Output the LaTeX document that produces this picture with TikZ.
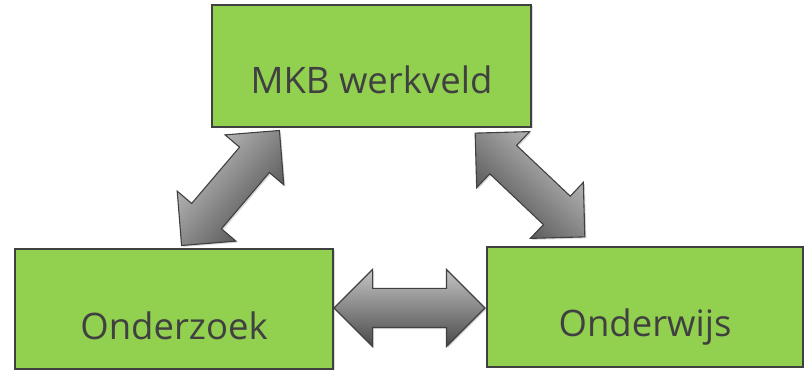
\documentclass[tikz,border=0pt]{standalone}
\usepackage{fontspec}
\setmainfont{Open Sans}
\usetikzlibrary{shapes.arrows,shadows}
\definecolor{boxgreen}{HTML}{92D050}
\definecolor{edgegray}{HTML}{404040}
\definecolor{txtgray}{HTML}{404040}
\definecolor{arrlight}{HTML}{C4C4C4}
\definecolor{arrdark}{HTML}{4A4A4A}
\tikzset{
  box/.style={draw=edgegray, line width=1.4pt, fill=boxgreen, inner sep=0pt,
    text=txtgray, font=\fontsize{36.5}{44}\selectfont, text depth=0pt,
    drop shadow={shadow xshift=1.5pt, shadow yshift=-1.5pt, opacity=0.3}},
  bigarrow/.style={double arrow, draw=edgegray, line width=1.1pt,
    inner xsep=0pt, inner ysep=19pt, text height=0pt, text depth=0pt,
    minimum height=151pt, minimum width=76pt, double arrow head extend=19pt,
    double arrow tip angle=90,
    top color=arrlight, bottom color=arrdark,
    drop shadow={shadow xshift=1.5pt, shadow yshift=-1.5pt, opacity=0.3}}
}
\begin{document}
\begin{tikzpicture}[x=1pt,y=1pt]
\useasboundingbox (0,0) rectangle (804,371);
\node[box, minimum width=319pt, minimum height=122pt, text height=56pt] (mkb) at (371.5,305) {MKB werkveld};
\node[box, minimum width=318pt, minimum height=120pt, text height=62pt] (ozk) at (174,62) {Onderzoek};
\node[box, minimum width=316pt, minimum height=120pt, text height=60pt] (ows) at (645,64) {Onderwijs};
\node[bigarrow, rotate=49.6, shading angle=49.6] (a1) at (230.5,183) {};
\node[bigarrow, rotate=-43.4, shading angle=-43.4] (a2) at (530,186) {};
\node[bigarrow] (a3) at (409.5,63) {};
\end{tikzpicture}
\end{document}
